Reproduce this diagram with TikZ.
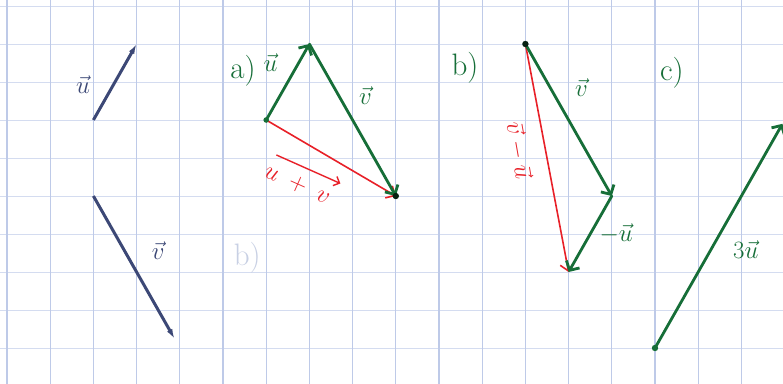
\documentclass[tikz,border=0pt]{standalone}
\usepackage{amsmath}
\usetikzlibrary{arrows.meta}
\definecolor{penblue}{RGB}{60,72,118}
\definecolor{darkgreen}{RGB}{22,110,56}
\definecolor{penred}{RGB}{232,32,40}
\definecolor{gridblue}{RGB}{190,202,232}
\definecolor{gridlight}{RGB}{212,220,240}
\definecolor{ghost}{RGB}{200,208,228}
\newcommand{\handsize}{\fontsize{31}{33}\selectfont}
\tikzset{
  vblue/.style={color=penblue,line width=3pt,-{Latex[length=10pt,width=6pt]}},
  vgreen/.style={color=darkgreen,line width=2.8pt,line cap=round,-{Straight Barb[length=7pt,width=15pt]}},
  vred/.style={color=penred,line width=1.6pt,line cap=round,-{Straight Barb[length=7pt,width=14pt]}},
  lbl/.style={anchor=center,inner sep=0pt,font=\handsize},
}

\begin{document}
\begin{tikzpicture}[x=43.2pt,y=38pt]
\fill[white] (-0.162,0.053) rectangle (17.963,10.158);
\useasboundingbox (-0.162,0.053) rectangle (17.963,10.158);
\clip (-0.162,0.053) rectangle (17.963,10.158);

% squared paper
\foreach \y in {1,...,10} \draw[color=gridlight,line width=1pt] (-0.2,\y) -- (18.2,\y);
\foreach \x in {0,...,18} \draw[color=gridblue,line width=1.2pt] (\x,0) -- (\x,10.3);

% the two vectors
\coordinate (lu0) at (2,7);
\coordinate (lu1) at (3,9);
\coordinate (lv0) at (2,5);
\coordinate (lv1) at (3.88,1.24);
\draw[vblue] (lu0) -- (lu1);
\draw[vblue] (lv0) -- (lv1);
\node[lbl,color=penblue] (lblLu) at (1.76,7.92) {$\vec{u}$};
\node[lbl,color=penblue] (lblLv) at (3.5,3.55) {$\vec{v}$};

\node[lbl,color=ghost] (lblGhost) at (5.56,3.37) {b)};

% a)
\coordinate (au0) at (6,7);
\coordinate (au1) at (7,9);
\coordinate (av1) at (9,5);
\draw[vred] (au0) -- (av1);
\draw[vgreen] (au0) -- (au1);
\draw[vgreen] (au1) -- (av1);
\fill[darkgreen] (au0) circle (2.8pt);
\fill[black!70!darkgreen] (av1) circle (3.2pt);
\node[lbl,color=darkgreen] (lblA) at (5.46,8.3) {a)};
\node[lbl,color=darkgreen] (lblAu) at (6.1,8.5) {$\vec{u}$};
\node[lbl,color=darkgreen] (lblAv) at (8.3,7.65) {$\vec{v}$};
\node[lbl,color=penred,rotate=-24] (lblAuv) at (6.72,5.3) {$u\mkern5mu+\mkern5mu v$};
\draw[vred,line width=1.4pt,-{Straight Barb[length=5pt,width=10pt]}] ([xshift=8pt,yshift=8pt]lblAuv.north west) -- ([xshift=8pt,yshift=8pt]lblAuv.north east);

% b)
\coordinate (bv0) at (12,9);
\coordinate (bv1) at (14,5);
\coordinate (bu1) at (13,3);
\draw[vred] (bv0) -- (bu1);
\draw[vgreen] (bv0) -- (bv1);
\draw[vgreen] (bv1) -- (bu1);
\fill[black!70!darkgreen] (bv0) circle (3.2pt);
\node[lbl,color=darkgreen] (lblB) at (10.6,8.37) {b)};
\node[lbl,color=darkgreen] (lblBv) at (13.3,7.85) {$\vec{v}$};
\node[lbl,color=darkgreen] (lblBmu) at (14.1,4.0) {$-\vec{u}$};
\node[lbl,color=penred,rotate=-80] (lblBvu) at (11.85,6.2) {$\vec{v}-\vec{u}$};

% c)
\coordinate (cu0) at (15,1);
\coordinate (cu1) at (17.95,6.9);
\draw[vgreen] (cu0) -- (cu1);
\fill[darkgreen] (cu0) circle (3.2pt);
\node[lbl,color=darkgreen] (lblC) at (15.39,8.24) {c)};
\node[lbl,color=darkgreen] (lblC3u) at (17.1,3.6) {$3\vec{u}$};

\end{tikzpicture}
\end{document}
